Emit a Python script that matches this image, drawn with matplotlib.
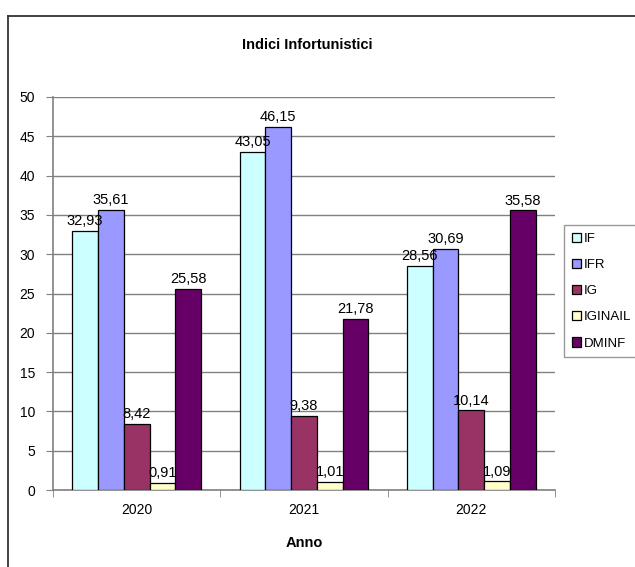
import matplotlib
matplotlib.use("Agg")
import matplotlib.pyplot as plt
from matplotlib.lines import Line2D
import numpy as np

years = ["2020", "2021", "2022"]
series = ["IF", "IFR", "IG", "IGINAIL", "DMINF"]
IF = [32.93, 43.05, 28.56]
IFR = [35.61, 46.15, 30.69]
IG = [8.42, 9.38, 10.14]
IGINAIL = [0.91, 1.01, 1.09]
DMINF = [25.58, 21.78, 35.58]
values = [IF, IFR, IG, IGINAIL, DMINF]
colors = ["#CCFFFF", "#9999FF", "#993366", "#FFFFCC", "#660066"]

plt.rcParams["font.family"] = ["Liberation Sans Narrow", "Liberation Sans", "DejaVu Sans"]

W, H = 635, 567
fig = plt.figure(figsize=(W / 100, H / 100), dpi=100)
ax = fig.add_axes([53 / W, 1 - 490 / H, (555 - 53) / W, (490 - 97) / H])

x = np.arange(len(years))
bw = 0.154
for i, (name, vals, c) in enumerate(zip(series, values, colors)):
    pos = x + (i - 2) * bw
    ax.bar(pos, vals, width=bw, color=c, edgecolor="black", linewidth=0.9,
           label=name, zorder=3)
    for px, v in zip(pos, vals):
        ax.annotate(f"{v:.2f}".replace(".", ","), (px, v), xytext=(0, 2),
                    textcoords="offset points", ha="center", va="bottom",
                    fontsize=10.5, zorder=4)

ax.set_xlim(-0.5, 2.5)
ax.set_ylim(0, 50)
ax.set_yticks(range(0, 51, 5))
ax.set_xticks(x)
ax.set_xticklabels(years)
ax.set_xticks([-0.5, 0.5, 1.5, 2.5], minor=True)
ax.tick_params(axis="x", which="major", length=0, pad=9, labelsize=10)
ax.tick_params(axis="x", which="minor", length=5, color="#808080", direction="out")
ax.tick_params(axis="y", length=5, color="#808080", direction="out", labelsize=10, pad=8)
ax.yaxis.grid(True, color="#808080", linewidth=1.0, zorder=0)
for s in ("top", "right"):
    ax.spines[s].set_visible(False)
for s in ("left", "bottom"):
    ax.spines[s].set_color("#808080")
    ax.spines[s].set_linewidth(1.2)

ax.set_xlabel("Anno", fontsize=10.5, fontweight="bold", labelpad=14)
fig.text(307 / W, 1 - 45 / H, "Indici Infortunistici", ha="center", va="center",
         fontsize=10.5, fontweight="bold")

leg = ax.legend(loc="upper left", bbox_to_anchor=(564 / W, 1 - 225 / H),
                bbox_transform=fig.transFigure, frameon=True, fancybox=False,
                edgecolor="#808080", fontsize=9.5, handlelength=0.7,
                handleheight=0.7, handletextpad=0.2, labelspacing=1.05,
                borderpad=0.6, borderaxespad=0)
leg.get_frame().set_linewidth(1.0)

# outer chart border (top and left edges)
fig.add_artist(Line2D([8 / W, 1.0], [1 - 16 / H, 1 - 16 / H], color="#333333",
                      linewidth=1.3, transform=fig.transFigure))
fig.add_artist(Line2D([8 / W, 8 / W], [1 - 16 / H, 0.0], color="#333333",
                      linewidth=1.3, transform=fig.transFigure))

fig.savefig("out.png", dpi=100, facecolor="white")
